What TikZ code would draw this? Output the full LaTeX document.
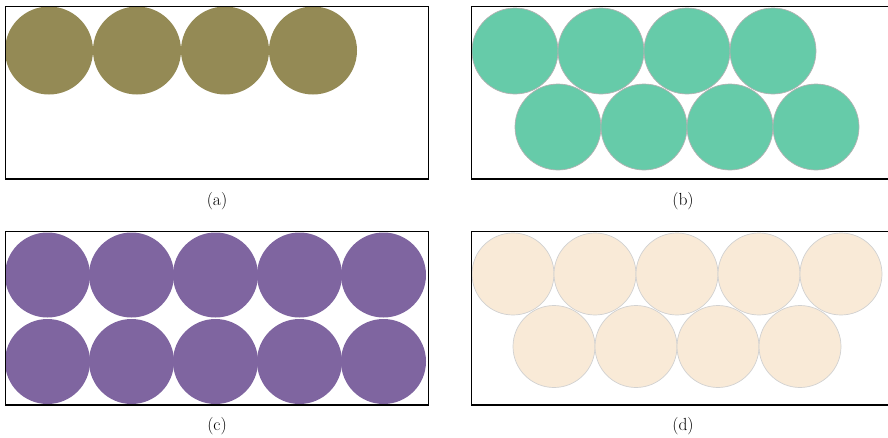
\documentclass[tikz,border=0pt]{standalone}
\usepackage{fontspec}
\usepackage{tikz}
\usetikzlibrary{positioning}
\definecolor{olivefill}{RGB}{148,138,85}
\definecolor{mintfill}{RGB}{102,203,169}
\definecolor{plumfill}{RGB}{127,101,160}
\definecolor{creamfill}{RGB}{249,234,215}
\tikzset{
  panel/.style={draw, line width=1.1pt},
  ball/.style={circle, inner sep=0pt, outer sep=0pt, minimum size=#1},
  sublabel/.style={font=\fontsize{17.5}{19}\selectfont, inner sep=0pt}
}

\begin{document}
\begin{tikzpicture}[x=1pt, y=-1pt]
    \useasboundingbox (0,0) rectangle (888,437);
    % (a) one row
    \foreach \i in {0,...,3}
      \node[ball=88pt, fill=olivefill] (a\i) at (49+88*\i, 50.5) {};
    \draw[panel] (5.5,6.3) rectangle (428.5,179);
    \node[sublabel] (la) at (217,201) {(a)};
    % (b) two rows, shifted
    \foreach \i in {0,...,3} {
      \node[ball=86pt, fill=mintfill, draw=black!30, line width=0.7pt] (b\i) at (515+86*\i, 51) {};
      \node[ball=86pt, fill=mintfill, draw=black!30, line width=0.7pt] (bb\i) at (558+86*\i, 127) {};
    }
    \draw[panel] (471.5,6.3) rectangle (890,179);
    \node[sublabel] (lb) at (683,201) {(b)};
    % (c) square grid
    \foreach \i in {0,...,4} {
      \node[ball=85pt, fill=plumfill] (c\i) at (47.5+84*\i, 275) {};
      \node[ball=85pt, fill=plumfill] (cc\i) at (47.5+84*\i, 361.5) {};
    }
    \draw[panel] (5.5,231.3) rectangle (428.5,405);
    \node[sublabel] (lc) at (217,426) {(c)};
    % (d) five over four
    \foreach \i in {0,...,4}
      \node[ball=82pt, fill=creamfill, draw=black!18, line width=0.7pt] (d\i) at (513+82*\i, 274) {};
    \foreach \i in {0,...,3}
      \node[ball=82pt, fill=creamfill, draw=black!18, line width=0.7pt] (dd\i) at (554+82*\i, 346.5) {};
    \draw[panel] (471.5,231.3) rectangle (890,405);
    \node[sublabel] (ld) at (683,426) {(d)};
  \end{tikzpicture}
\end{document}
